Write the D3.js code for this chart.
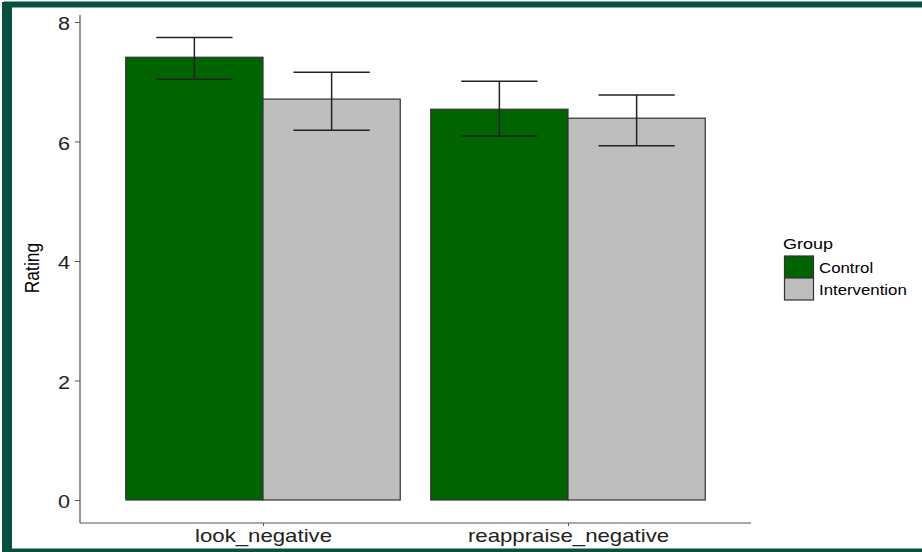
<!DOCTYPE html>
<html><head><meta charset="utf-8">
<script src="https://cdn.jsdelivr.net/npm/d3@7"></script>
<style>html,body{margin:0;padding:0;background:#fff}svg{display:block}</style>
</head><body>
<svg id="chart" width="922" height="552"></svg>
<script>
const categories = ["look_negative", "reappraise_negative"];
const groups = ["Control", "Intervention"];
const means = [[7.41, 6.71], [6.54, 6.39]];
const errLow = [[7.04, 6.19], [6.09, 5.93]];
const errHigh = [[7.74, 7.16], [7.01, 6.78]];
const yTicks = [0, 2, 4, 6, 8];
const colors = ["#006400", "#bebebe"];

const svg = d3.select("#chart");
const font = "'Liberation Sans', Arial, sans-serif";
const stretch = 1.2; // reference text is horizontally widened
function widen(sel) {
  sel.each(function () {
    const w = this.getComputedTextLength();
    d3.select(this).attr("textLength", w * stretch).attr("lengthAdjust", "spacingAndGlyphs");
  });
}

// frame
svg.append("rect").attr("x", 7).attr("y", 4.5).attr("width", 930).attr("height", 547)
  .attr("fill", "none").attr("stroke", "#07503f").attr("stroke-width", 6);
svg.append("rect").attr("x", 2).attr("y", 2).attr("width", 10).attr("height", 552).attr("fill", "#07503f");

const x0 = 80, x1 = 751, yTop = 15, yBot = 523;
const unit = (x1 - x0) / 2.2; // ggplot discrete expansion 0.6 each side
const x = d3.scalePoint().domain(categories).range([x0 + 0.6 * unit, x0 + 1.6 * unit]);
const y = d3.scaleLinear().domain([0, 8]).range([500, 22]);
const sub = d3.scaleBand().domain(groups).range([-0.45 * unit, 0.45 * unit]);

const g = svg.append("g");
categories.forEach((c, i) => {
  groups.forEach((gr, j) => {
    g.append("rect")
      .attr("x", x(c) + sub(gr)).attr("width", sub.bandwidth())
      .attr("y", y(means[i][j])).attr("height", y(0) - y(means[i][j]))
      .attr("fill", colors[j]).attr("stroke", "#333").attr("stroke-width", 1.2);
  });
});
categories.forEach((c, i) => {
  groups.forEach((gr, j) => {
    const mx = x(c) + sub(gr) + sub.bandwidth() / 2;
    const hw = 0.125 * unit;
    const eg = g.append("g").attr("stroke", "#222").attr("stroke-width", 1.5).attr("fill", "none");
    eg.append("line").attr("x1", mx).attr("x2", mx).attr("y1", y(errHigh[i][j])).attr("y2", y(errLow[i][j]));
    eg.append("line").attr("x1", mx - hw).attr("x2", mx + hw).attr("y1", y(errHigh[i][j])).attr("y2", y(errHigh[i][j]));
    eg.append("line").attr("x1", mx - hw).attr("x2", mx + hw).attr("y1", y(errLow[i][j])).attr("y2", y(errLow[i][j]));
  });
});

// y axis
const yAxis = svg.append("g").attr("transform", `translate(${x0},0)`)
  .call(d3.axisLeft(y).tickValues(yTicks).tickSize(5).tickPadding(5).tickFormat(d3.format("d")));
yAxis.select(".domain").attr("d", `M0,${yTop}V${yBot}`).attr("stroke", "#555").attr("stroke-width", 1.2);
yAxis.selectAll(".tick line").attr("stroke", "#555");
yAxis.selectAll(".tick text").attr("font-family", font).attr("font-size", 18).attr("fill", "#222")
  .attr("dy", "0.42em").call(widen);

// x axis
const xAxis = svg.append("g").attr("transform", `translate(0,${yBot})`)
  .call(d3.axisBottom(x).tickSize(3).tickPadding(3));
xAxis.select(".domain").attr("d", `M${x0},0H${x1}`).attr("stroke", "#555").attr("stroke-width", 1.2);
xAxis.selectAll(".tick line").attr("stroke", "#555");
xAxis.selectAll(".tick text").attr("font-family", font).attr("font-size", 18.5).attr("fill", "#222")
  .attr("dy", "0.72em").call(widen);

svg.append("text").attr("transform", "translate(39,268) scale(1.2,1) rotate(-90)").attr("text-anchor", "middle")
  .attr("font-family", font).attr("font-size", 17.5).attr("fill", "#000").text("Rating");

// legend
const lg = svg.append("g").attr("transform", "translate(783,0)");
lg.append("text").attr("x", 0).attr("y", 249).attr("font-family", font).attr("font-size", 15).attr("fill", "#000").text("Group").call(widen);
groups.forEach((gr, j) => {
  lg.append("rect").attr("x", 1.5).attr("y", 256 + j * 22).attr("width", 29).attr("height", 22)
    .attr("fill", colors[j]).attr("stroke", "#333").attr("stroke-width", 1.2);
  lg.append("text").attr("x", 36).attr("y", 272.5 + j * 22).attr("font-family", font).attr("font-size", 14)
    .attr("fill", "#000").text(gr).call(widen);
});
</script>
</body></html>
